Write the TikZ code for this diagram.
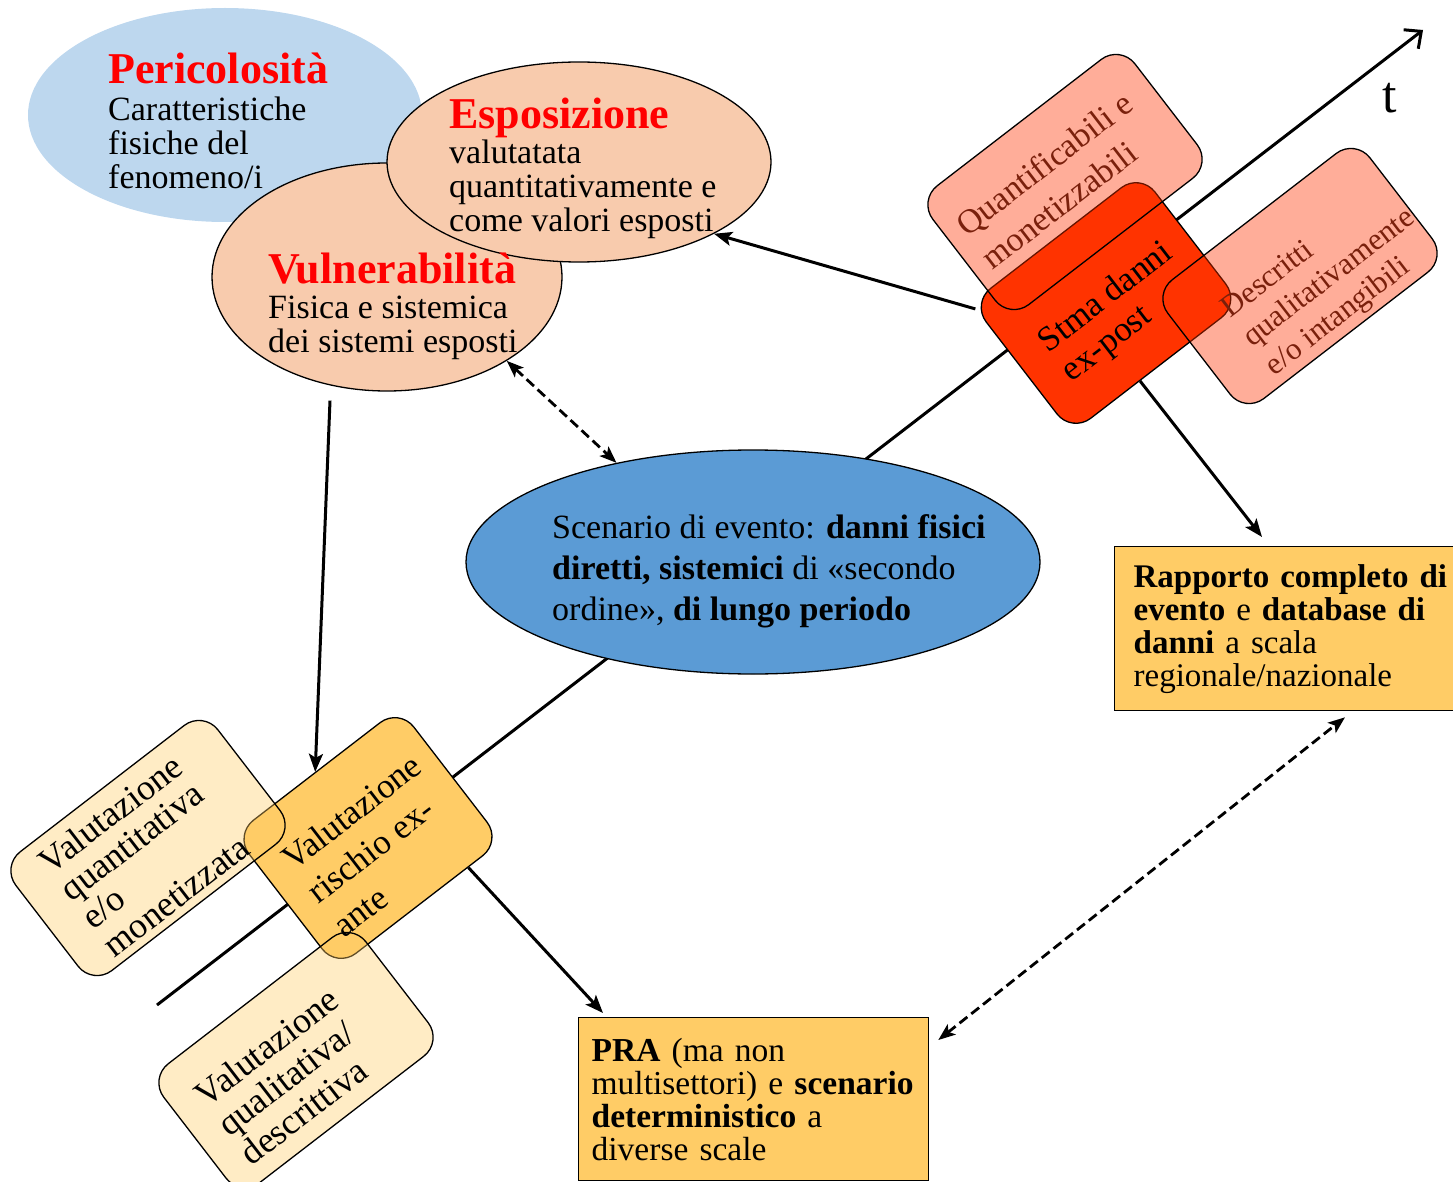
\documentclass[tikz,border=0pt]{standalone}
\usepackage{fontspec}
\setmainfont{Liberation Serif}
\usetikzlibrary{arrows.meta,shapes.geometric,calc}

\definecolor{periblue}{HTML}{BDD7EE}
\definecolor{peach}{HTML}{F8CBAD}
\definecolor{scenblue}{HTML}{5B9BD5}
\definecolor{damred}{HTML}{FF3300}
\definecolor{riskorange}{HTML}{FFCC66}
\definecolor{darkrust}{HTML}{7A200C}
\definecolor{titlered}{HTML}{FF0000}

\newcommand\bubbletitle[1]{{\fontsize{44}{44}\selectfont\bfseries\color{titlered}#1}}

\begin{document}
\begin{tikzpicture}[x=1pt,y=-1pt,
  every node/.style={inner sep=0pt},
  bubble/.style={ellipse, inner sep=0pt},
  outlined/.style={draw=black, line width=1.3pt},
  bubbletext/.style={align=left, anchor=north west, font=\fontsize{34}{34}\selectfont},
  tiltbox/.style={rectangle, rounded corners=24pt, draw=black, line width=1.3pt, rotate=37.6},
  tilttext/.style={rotate=37.6, align=left},
  palered/.style={fill=damred, fill opacity=0.4},
  paleorange/.style={fill=riskorange, fill opacity=0.38},
  sqbox/.style={rectangle, draw=black, line width=1.3pt, fill=riskorange, align=left,
    anchor=north west},
  axisline/.style={line width=3pt, -{Straight Barb[length=13pt,width=24pt]}},
  conn/.style={line width=3pt, -{Stealth[length=18pt,width=14pt,inset=4pt]}},
  dconn/.style={line width=2.8pt, dash pattern=on 10pt off 5pt,
    {Stealth[length=17pt,width=13pt,inset=4pt]}-{Stealth[length=17pt,width=13pt,inset=4pt]}}
]
\useasboundingbox (0,0) rectangle (1453,1182);

% time axis
\coordinate (t0) at (157,1005);
\coordinate (t1) at (1423,30);
\draw[axisline] (t0) -- (t1);
\node[font=\fontsize{52}{52}\selectfont] (tlab) at (1390,98) {t};

% risk components
\node[bubble, fill=periblue, minimum width=394pt, minimum height=214pt] (peri) at (225,115) {};
\node[bubble, outlined, fill=peach, minimum width=350pt, minimum height=228pt] (vul) at (387,277) {};
\node[bubble, outlined, fill=peach, minimum width=384pt, minimum height=200pt] (espo) at (579,162) {};

\node[bubbletext] (peritxt) at (108,53)
  {\bubbletitle{Pericolosità}\\[3pt] Caratteristiche\\ fisiche del\\ fenomeno/i};
\node[bubbletext] (espotxt) at (449,98)
  {\bubbletitle{Esposizione}\\[1pt] valutatata\\ quantitativamente e\\ come valori esposti};
\node[bubbletext] (vultxt) at (268,253)
  {\bubbletitle{Vulnerabilità}\\[1pt] Fisica e sistemica\\ dei sistemi esposti};

% event scenario
\node[bubble, outlined, fill=scenblue, minimum width=574pt, minimum height=224pt] (scen) at (753,562) {};
\node[align=left, anchor=north west, font=\fontsize{34}{41}\selectfont] (scentxt) at (552,514)
  {Scenario di evento: \textbf{danni fisici}\\
   \textbf{diretti, sistemici} di «secondo\\
   ordine», \textbf{di lungo periodo}};

% ex-post damage estimate
\node[tiltbox, fill=damred, minimum width=213pt, minimum height=164pt] (stma) at (1106,303) {};
\node[tiltbox, palered, minimum width=255pt, minimum height=150pt] (quant) at (1065,182) {};
\node[tiltbox, palered, minimum width=255pt, minimum height=150pt] (descr) at (1300,276) {};
\node[tilttext, font=\fontsize{35}{37.5}\selectfont] (stmatxt) at (1118,313) {Stma danni\\ex-post};
\node[tilttext, text=darkrust, font=\fontsize{34}{42}\selectfont] (quanttxt) at (1057,180)
  {Quantificabili e\\monetizzabili};
\node[tilttext, text=darkrust, font=\fontsize{31}{36}\selectfont] (descrtxt) at (1330,279)
  {Descritti\\qualitativamente\\e/o intangibili};

% ex-ante risk assessment
\node[tiltbox, fill=riskorange, minimum width=208pt, minimum height=168pt] (risk) at (368,838) {};
\node[tiltbox, paleorange, minimum width=255pt, minimum height=150pt] (quantv) at (148,848) {};
\node[tiltbox, paleorange, minimum width=255pt, minimum height=150pt] (qualv) at (296,1060) {};
\node[tilttext, font=\fontsize{35}{42}\selectfont] (risktxt) at (377,845)
  {Valutazione\\rischio ex-\\ante};
\node[tilttext, font=\fontsize{36}{35}\selectfont] (quantvtxt) at (144,854)
  {Valutazione\\quantitativa\\e/o\\monetizzata};
\node[tilttext, font=\fontsize{36}{37}\selectfont] (qualvtxt) at (289,1076)
  {Valutazione\\qualitativa/\\descrittiva};

% outputs
\node[sqbox, minimum width=361pt, minimum height=164pt, text width=323pt, inner xsep=19pt,
  font=\fontsize{33}{33}\selectfont] (rap) at (1114,546)
  {\textbf{Rapporto completo di}\\ \textbf{evento} e \textbf{database di}\\ \textbf{danni} a scala\\ regionale/nazionale};
\node[sqbox, minimum width=350pt, minimum height=163pt, text width=324pt, inner xsep=13pt,
  font=\fontsize{33.5}{33}\selectfont] (pra) at (578,1017)
  {\textbf{PRA} (ma non\\ multisettori) e \textbf{scenario}\\ \textbf{deterministico} a\\ diverse scale};

% connectors
\draw[conn] (stma.145) -- (espo.-28);
\draw[conn] (stma.-104) -- ([xshift=148pt,yshift=9pt]rap.north west);
\draw[conn] ([xshift=-57pt,yshift=-9pt]vul.south) -- (risk.91);
\draw[conn] (risk.-54) -- ([xshift=25pt,yshift=4pt]pra.north west);
\draw[dconn] (vul.-35) -- (scen.144);
\draw[dconn] ([xshift=9pt,yshift=-23pt]pra.north east) -- ([xshift=231pt,yshift=-6pt]rap.south west);
\end{tikzpicture}
\end{document}
